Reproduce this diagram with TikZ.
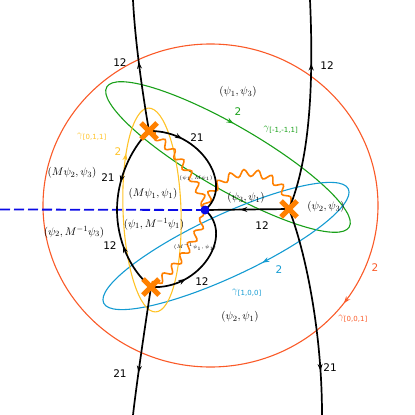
\documentclass[tikz,border=0pt]{standalone}
\usepackage{fontspec}
\setmainfont{DejaVu Sans}
\usetikzlibrary{arrows.meta,decorations.markings,decorations.pathmorphing,shapes.misc,backgrounds}
\definecolor{cRed}{RGB}{250,90,40}
\definecolor{cGreen}{RGB}{25,160,25}
\definecolor{cBlue}{RGB}{20,155,210}
\definecolor{cYel}{RGB}{255,195,40}
\definecolor{cOr}{RGB}{255,128,0}
\definecolor{cDash}{RGB}{10,10,230}
\newcommand{\gsub}[1]{$\gamma$\textsubscript{#1}}
\begin{document}
\begin{tikzpicture}[x=1pt,y=-1pt,
 curve/.style={line width=1.7pt, black},
 midarrow/.style={postaction={decorate,decoration={markings,mark=at position #1 with {\arrow{Stealth[length=7pt,width=5pt]}}}}},
 ell/.style={line width=1.1pt},
 xmark/.style={cross out, draw=cOr, line width=5pt, minimum size=11pt, inner sep=0pt},
 dotnode/.style={circle, fill=cDash, inner sep=0pt, minimum size=9pt},
 dashline/.style={cDash, line width=1.8pt, dash pattern=on 10pt off 4pt},
 wavy/.style={cOr, line width=1.6pt, decorate, decoration={snake, amplitude=3.5pt, segment length=13.5pt}},
 num/.style={font=\fontsize{10.5}{12}\selectfont, inner sep=0pt},
 lab/.style={font=\fontsize{11}{13}\selectfont, inner sep=0pt},
 tinylab/.style={font=\fontsize{5.5}{6}\selectfont, inner sep=0pt},
 gam/.style={font=\fontsize{10}{12}\selectfont, inner sep=0pt},
]
\useasboundingbox (0,0) rectangle (415,415);
\node[xmark] (X1) at (149,131) {};
\node[xmark] (X2) at (289,209) {};
\node[xmark] (X3) at (151,287) {};
\node[dotnode] (dot) at (205,210) {};
\coordinate (tl) at (133,0);
\coordinate (bl) at (133,415);
\coordinate (tr) at (310,0);
\coordinate (br) at (322,415);
\coordinate (lm) at (117,210);
\coordinate (dl) at (0,209.5);

\begin{scope}[on background layer]
\draw[ell,cRed,midarrow=0.102] (210.5,205.5) ellipse [x radius=167.5, y radius=161.5];
\draw[ell,cGreen,midarrow=0.73, rotate around={-30:(228,157)}] (228,157) ellipse [x radius=140, y radius=32];
\draw[ell,cBlue,midarrow=0.205, rotate around={25:(226,246)}] (226,246) ellipse [x radius=135, y radius=31];
\draw[ell,cYel,midarrow=0.63, rotate around={2:(152,210)}] (152,210) ellipse [x radius=29, y radius=102];
\draw[dashline] (dl) -- (dot.center);
\draw[wavy] (X1.center) .. controls (175,150) and (195,180) .. (dot.center);
\draw[wavy] (X3.center) .. controls (175,270) and (195,240) .. (dot.center);
\draw[wavy] (dot.center) .. controls (215,165) and (280,165) .. (X2.center);
\draw[curve,midarrow=0.53] (X1.center) .. controls (142,90) and (135,40) .. (tl);
\draw[curve,midarrow=0.67] (X3.center) .. controls (146,320) and (137,380) .. (bl);
\draw[curve,midarrow=0.7] (X2.center) .. controls (305,170) and (315,110) .. (tr);
\draw[curve,midarrow=0.79] (X2.center) .. controls (305,250) and (322,330) .. (br);
\draw[curve,midarrow=0.28] (X1.center) .. controls (200,130) and (235,185) .. (dot.center);
\draw[curve,midarrow=0.3] (X3.center) .. controls (200,290) and (235,235) .. (dot.center);
\draw[curve,midarrow=0.68] (X1.center) .. controls (130,150) and (117,180) .. (lm);
\draw[curve,midarrow=0.58] (X3.center) .. controls (130,270) and (117,240) .. (lm);
\draw[curve,midarrow=0.58] (X2.center) -- (dot.center);
\end{scope}

\node[num] (l1) at (120,63) {12};
\node[num] (l2) at (120,374) {21};
\node[num] (l3) at (327,66) {12};
\node[num] (l4) at (330,368) {21};
\node[num] (l5) at (197,138) {21};
\node[num] (l6) at (108,178) {21};
\node[num] (l7) at (110,246) {12};
\node[num] (l8) at (202,282) {12};
\node[num] (l9) at (262,226) {12};
\node[num,text=cGreen] (g2) at (238,112) {2};
\node[num,text=cYel] (y2) at (118,152) {2};
\node[num,text=cBlue] (b2) at (279,270) {2};
\node[num,text=cRed] (r2) at (375,268) {2};
\node[gam,text=cGreen] (gg) at (281,130) {\gsub{[-1,-1,1]}};
\node[gam,text=cYel] (gy) at (92,137) {\gsub{[0,1,1]}};
\node[gam,text=cBlue] (gb) at (247,293) {\gsub{[1,0,0]}};
\node[gam,text=cRed] (gr) at (353,319) {\gsub{[0,0,1]}};
\node[lab] (m1) at (238,92) {$(\psi_1,\psi_3)$};
\node[lab] (m2) at (72,173) {$(M\psi_2,\psi_3)$};
\node[lab] (m3) at (74,232) {$(\psi_2,M^{-1}\psi_3)$};
\node[lab] (m4) at (153,194) {$(M\psi_1,\psi_1)$};
\node[lab] (m5) at (154,224) {$(\psi_1,M^{-1}\psi_1)$};
\node[lab] (m6) at (246,198) {$(\psi_3,\psi_1)$};
\node[lab] (m7) at (326,207) {$(\psi_2,\psi_3)$};
\node[lab] (m8) at (240,317) {$(\psi_2,\psi_1)$};
\node[tinylab] (t1) at (196,178) {$(\psi_1,M\psi_1)$};
\node[tinylab] (t2) at (195,247) {$(M^{-1}\psi_1,\psi_1)$};
\end{tikzpicture}
\end{document}
